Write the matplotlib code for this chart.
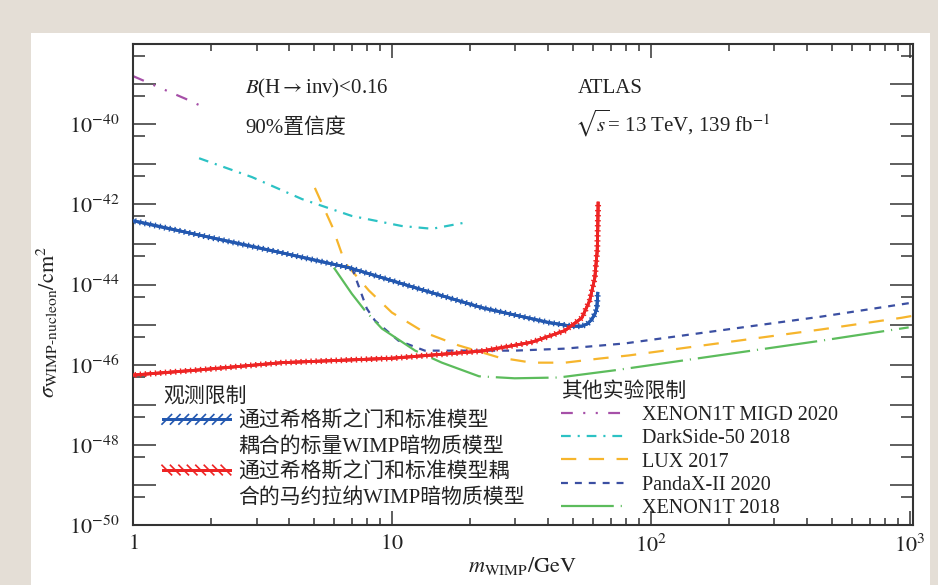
import numpy as np
import matplotlib
matplotlib.use("Agg")
import matplotlib.pyplot as plt
import matplotlib.patheffects as pe
from matplotlib.lines import Line2D
from matplotlib.patches import Rectangle
from matplotlib.ticker import FixedLocator, FuncFormatter, NullFormatter

plt.rcParams['font.family'] = ['Liberation Serif', 'Noto Sans CJK SC', 'DejaVu Sans']
plt.rcParams['mathtext.fontset'] = 'stix'
plt.rcParams['lines.scale_dashes'] = False

# values: WIMP mass (GeV) and log10 of cross section (cm^2)
scalar_m = [1.0, 2.0, 3.76, 6.82, 12.3, 22.3, 40.4, 49.5, 54.2, 57.0, 59.2, 61.0, 61.9, 62.4]
scalar_s = [-42.41, -42.83, -43.21, -43.58, -44.08, -44.58, -44.95, -45.04, -45.04, -44.98,
            -44.87, -44.72, -44.59, -44.22]

major_m = [1.0, 1.81, 3.76, 10.0, 22.3, 34.7, 46.6, 54.2, 58.1, 60.8, 62.1, 62.4, 62.6]
major_s = [-46.26, -46.13, -45.95, -45.84, -45.66, -45.44, -45.15, -44.83, -44.40,
           -43.83, -43.16, -42.60, -41.97]

migd_m = [1.0, 1.3, 1.6, 1.88]
migd_s = [-38.80, -39.12, -39.37, -39.58]

ds50_m = [1.8, 2.88, 4.5, 7.0, 10.9, 14.3, 19.0]
ds50_s = [-40.85, -41.32, -41.87, -42.29, -42.54, -42.61, -42.46]

lux_m = [5.04, 5.87, 6.59, 8.15, 10.0, 13.4, 18.1, 25.9, 34.7, 46.6, 63.0, 82.2, 457, 931, 1030]
lux_s = [-41.59, -42.54, -43.46, -44.15, -44.70, -45.20, -45.52, -45.82, -45.95, -45.95,
         -45.85, -45.77, -45.12, -44.83, -44.78]

panda_m = [7.01, 8.0, 8.6, 10.6, 13.4, 19.1, 29.8, 46.6, 79.4, 457, 1030]
panda_s = [-43.58, -44.60, -44.90, -45.40, -45.65, -45.65, -45.65, -45.60, -45.47, -44.80, -44.45]

x1t_m = [5.97, 7.0, 7.87, 9.15, 12.3, 15.6, 21.7, 29.8, 44.2, 72.6, 457, 991]
x1t_s = [-43.58, -44.23, -44.65, -45.10, -45.65, -45.95, -46.29, -46.34, -46.32, -46.14,
         -45.40, -45.07]

obs_title = '观测限制'
obs_labels = ['通过希格斯之门和标准模型', '耦合的标量WIMP暗物质模型',
              '通过希格斯之门和标准模型耦', '合的马约拉纳WIMP暗物质模型']
other_title = '其他实验限制'
other_labels = ['XENON1T MIGD 2020', 'DarkSide-50 2018', 'LUX 2017', 'PandaX-II 2020',
                'XENON1T 2018']

blue = '#2358b0'
red = '#ee2424'
purple = '#a650a8'
cyan = '#2cc2c4'
orange = '#f6b52c'
navy = '#3b4fa2'
green = '#5cbc5c'
axc = '#333333'
txt = '#222222'

fig = plt.figure(figsize=(9.38, 5.85), dpi=100, facecolor='#e4ded6')
fig.add_artist(Rectangle((31 / 938, 0), (930 - 31) / 938, (585 - 33) / 585,
                         transform=fig.transFigure, facecolor='white', edgecolor='none', zorder=-1))
ax = fig.add_axes([133 / 938, 1 - 525 / 585, 780 / 938, 481 / 585])

def tick_fx(col, ang, sp, ln, lw):
    return [pe.withTickedStroke(angle=ang, spacing=sp, length=ln, linewidth=lw, foreground=col),
            pe.withTickedStroke(angle=ang + 180, spacing=sp, length=ln, linewidth=lw, foreground=col),
            pe.Normal()]

ax.plot(scalar_m, 10 ** np.array(scalar_s), color=blue, lw=2.0,
        path_effects=tick_fx(blue, 90, 3.6, 0.45, 1.0), zorder=5)
ax.plot(major_m, 10 ** np.array(major_s), color=red, lw=2.0,
        path_effects=tick_fx(red, 90, 3.6, 0.45, 1.0), zorder=5)

lw = 1.6
l_migd, = ax.plot(migd_m, 10 ** np.array(migd_s), color=purple, lw=lw,
                  dashes=(8.5, 7.5, 1.5, 7.5, 1.5, 7.5))
l_ds, = ax.plot(ds50_m, 10 ** np.array(ds50_s), color=cyan, lw=lw, dashes=(7, 5, 1.5, 5))
l_lux, = ax.plot(lux_m, 10 ** np.array(lux_s), color=orange, lw=lw, dashes=(11, 9))
l_pan, = ax.plot(panda_m, 10 ** np.array(panda_s), color=navy, lw=lw, dashes=(5, 5))
l_x1t, = ax.plot(x1t_m, 10 ** np.array(x1t_s), color=green, lw=lw, dashes=(38, 5, 0.8, 5))

ax.set_xscale('log')
ax.set_yscale('log')
ax.set_xlim(1, 1030)
ax.set_ylim(1e-50, 1e-38)

ax.yaxis.set_major_locator(FixedLocator([10.0 ** k for k in range(-50, -37)]))
ax.yaxis.set_minor_locator(FixedLocator([5 * 10.0 ** k for k in range(-50, -38)]))

def yfmt(v, p):
    k = int(round(np.log10(v)))
    if k % 2 == 0 and k <= -40:
        return r'$10^{%d}$' % k
    return ''

ax.yaxis.set_major_formatter(FuncFormatter(yfmt))
ax.yaxis.set_minor_formatter(NullFormatter())
ax.xaxis.set_major_locator(FixedLocator([1, 10, 100, 1000]))
ax.xaxis.set_minor_locator(FixedLocator([j * 10.0 ** k for k in range(3) for j in range(2, 10)]))
xlab = {1: r'$1$', 10: r'$10$', 100: r'$10^{2}$', 1000: r'$10^{3}$'}
ax.xaxis.set_major_formatter(FuncFormatter(lambda v, p: xlab.get(int(round(v)), '')))
ax.xaxis.set_minor_formatter(NullFormatter())

ax.tick_params(axis='y', which='major', direction='in', length=16.5, width=1.1, color=axc,
               left=True, right=True, pad=10, labelsize=16, labelcolor=txt)
ax.tick_params(axis='y', which='minor', direction='in', length=8.6, width=1.1, color=axc,
               left=True, right=True)
ax.tick_params(axis='x', which='major', direction='in', length=10, width=1.1, color=axc,
               top=True, bottom=True, pad=7, labelsize=16, labelcolor=txt)
ax.tick_params(axis='x', which='minor', direction='in', length=5, width=1.1, color=axc,
               top=True, bottom=True)
for s in ax.spines.values():
    s.set_linewidth(1.5)
    s.set_color(axc)

ax.set_xlabel(r'$m_{\mathrm{WIMP}}/\mathrm{GeV}$', fontsize=16, labelpad=-1.5, color=txt)
ax.set_ylabel(r'$\sigma_{\mathrm{WIMP}\text{-}\mathrm{nucleon}}/\mathrm{cm}^{2}$', fontsize=16,
              color=txt)
ax.yaxis.set_label_coords(-0.093, 0.422)

ax.text(0.1436, 0.9085, r'$B$(H$\rightarrow$inv)<0.16', transform=ax.transAxes, fontsize=15,
        va='center', color=txt)
ax.text(0.1436, 0.8254, '90%置信度', transform=ax.transAxes, fontsize=15,
        va='center', color=txt)
ax.text(0.5705, 0.9085, 'ATLAS', transform=ax.transAxes, fontsize=15,
        va='center', color=txt)
ax.text(0.5667, 0.8358, r'$\sqrt{s}$= 13 TeV, 139 fb$^{-1}$', transform=ax.transAxes,
        fontsize=15, va='center', color=txt)

blue_h = Line2D([], [], color=blue, lw=2.0, path_effects=tick_fx(blue, 45, 5.4, 0.9, 1.2))
red_h = Line2D([], [], color=red, lw=2.0, path_effects=tick_fx(red, 135, 5.4, 0.9, 1.2))
blank = Line2D([], [], linestyle='none')
leg1 = ax.legend([blue_h, blank, red_h, blank], obs_labels, title=obs_title,
                 loc='upper left', bbox_to_anchor=(0.0385, 0.2875), frameon=False,
                 fontsize=15, title_fontsize=15, handlelength=3.2, handletextpad=0.4,
                 labelspacing=0.26, borderpad=0, borderaxespad=0, alignment='left')
for t in leg1.get_texts() + [leg1.get_title()]:
    t.set_color(txt)
ax.add_artist(leg1)
leg2 = ax.legend([l_migd, l_ds, l_lux, l_pan, l_x1t], other_labels, title=other_title,
                 loc='upper left', bbox_to_anchor=(0.549, 0.2967), frameon=False,
                 fontsize=14.5, title_fontsize=15, handlelength=3.3, handletextpad=0.7,
                 labelspacing=0.2, borderpad=0, borderaxespad=0, alignment='left')
for t in leg2.get_texts() + [leg2.get_title()]:
    t.set_color(txt)

fig.savefig('out.png', dpi=100, facecolor=fig.get_facecolor())
